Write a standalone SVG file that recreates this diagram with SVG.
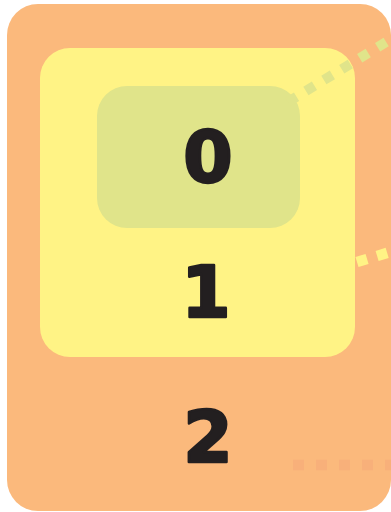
<svg xmlns="http://www.w3.org/2000/svg" width="391" height="512" viewBox="0 0 391 512">
<style>
.num{font-family:"DejaVu Sans","Liberation Sans",sans-serif;font-weight:bold;font-size:71px;fill:#231f20;stroke:#231f20;stroke-width:2.6;stroke-linejoin:round;text-anchor:middle}
.dot{fill:none;stroke-linecap:butt}
</style>
<rect width="391" height="512" fill="#ffffff"/>
<g id="node2">
<rect x="7" y="4" width="384" height="507" rx="31" fill="#fbb97c"/>
<text class="num" x="208" y="462">2</text>
</g>
<g id="node1">
<rect x="40" y="48" width="315" height="309" rx="30" fill="#fff385"/>
<text class="num" x="206" y="317">1</text>
</g>
<g id="node0">
<rect x="97" y="86" width="203" height="142" rx="30" fill="#e0e48a"/>
<text class="num" x="208" y="182">0</text>
</g>
<g id="connectors">
<line class="dot" x1="288" y1="102" x2="396" y2="36" stroke="#e0e48a" stroke-width="10" stroke-dasharray="10 11"/>
<line class="dot" x1="357" y1="262" x2="400" y2="249" stroke="#fff385" stroke-width="10.5" stroke-dasharray="10.5 10.5"/>
<line class="dot" x1="293" y1="465" x2="400" y2="465" stroke="#f8b07a" stroke-width="10.5" stroke-dasharray="11 12"/>
</g>
</svg>
